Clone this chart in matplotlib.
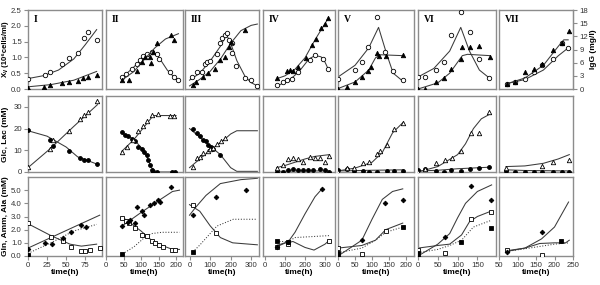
import numpy as np
import matplotlib
matplotlib.use('Agg')
import matplotlib.pyplot as plt

plt.rcParams['font.family'] = ['Liberation Sans', 'DejaVu Sans']

# panel labels and time ticks, one entry per culture (column)
panel_names = ['I', 'II', 'III', 'IV', 'V', 'VI', 'VII']
time_ticks = [[0, 25, 50, 75], [0, 50, 100, 150, 200], [0, 100, 200, 300],
              [0, 100, 200, 300], [0, 50, 100, 150, 200], [0, 50, 100, 150],
              [50, 100, 150, 200, 250]]
time_lims = [(0, 97), (0, 220), (-22, 338), (-10, 350), (0, 223), (0, 197), (50, 250)]

# ---- row 1: viable cells (open circles) and IgG (filled triangles)
xv_t = [[0, 22, 29, 45, 54, 66, 73, 78, 90],
        [45, 57, 73, 88, 97, 107, 116, 130, 145, 152, 183, 194, 207],
        [11, 35, 59, 76, 87, 100, 133, 149, 157, 173, 181, 194, 206, 206, 227, 271, 299, 328],
        [62, 88, 112, 137, 167, 225, 250, 292, 317],
        [1, 50, 70, 89, 114, 138, 161, 191],
        [0, 18, 45, 65, 84, 109, 131, 154, 180],
        [71, 93, 120, 145, 165, 197, 219, 237]]
xv = [[0.32, 0.43, 0.53, 0.78, 0.99, 1.15, 1.62, 1.79, 1.56],
      [0.37, 0.46, 0.64, 0.80, 0.93, 1.06, 1.12, 1.17, 1.10, 0.96, 0.53, 0.39, 0.27],
      [0.37, 0.53, 0.53, 0.80, 0.85, 0.90, 1.12, 1.44, 1.60, 1.70, 1.78, 1.56, 1.44, 1.15, 0.74, 0.35, 0.29, 0.11],
      [0.13, 0.21, 0.27, 0.32, 0.55, 0.93, 1.09, 0.96, 0.62],
      [0.32, 0.59, 0.85, 1.33, 2.27, 1.17, 0.56, 0.27],
      [0.39, 0.39, 0.59, 0.87, 1.72, 2.45, 1.79, 0.96, 0.35],
      [0.16, 0.23, 0.32, 0.55, 0.77, 0.96, 1.44, 1.30]]
xv_fit_t = [[0, 20, 40, 60, 75, 90],
            [45, 80, 110, 135, 150, 175, 207],
            [0, 50, 100, 150, 180, 200, 230, 270, 300, 330],
            [62, 120, 170, 220, 250, 280, 300, 317],
            [0, 50, 90, 119, 143, 162, 190],
            [0, 40, 80, 108, 130, 155, 180],
            [71, 120, 170, 210, 237]]
xv_fit = [[0.33, 0.42, 0.60, 0.95, 1.40, 1.88],
          [0.35, 0.70, 1.05, 1.15, 1.02, 0.60, 0.23],
          [0.28, 0.50, 0.88, 1.35, 1.72, 1.45, 0.90, 0.40, 0.20, 0.10],
          [0.10, 0.27, 0.55, 0.95, 1.06, 1.02, 0.85, 0.62],
          [0.38, 0.75, 1.30, 1.95, 1.10, 0.50, 0.25],
          [0.38, 0.65, 1.20, 1.95, 1.20, 0.60, 0.35],
          [0.17, 0.30, 0.60, 1.05, 1.30]]
igg_t = [[0, 21, 29, 45, 54, 66, 72, 78, 90],
         [45, 66, 88, 102, 112, 127, 129, 133, 145, 185, 194],
         [16, 32, 67, 92, 124, 149, 173, 194, 202, 271],
         [62, 112, 125, 138, 167, 205, 233, 255, 278, 300, 317],
         [1, 26, 50, 70, 89, 96, 114, 119, 141, 190],
         [0, 18, 45, 65, 84, 109, 112, 131, 154, 182],
         [71, 93, 120, 145, 165, 197, 219, 240]]
igg = [[0.2, 0.5, 0.9, 1.3, 1.7, 1.9, 2.4, 2.8, 3.3],
       [2.1, 2.1, 4.0, 6.1, 7.3, 7.4, 6.0, 8.4, 10.5, 12.4, 11.2],
       [0.9, 1.5, 2.8, 3.6, 4.6, 6.7, 7.4, 9.6, 10.7, 13.5],
       [2.5, 4.2, 4.4, 4.2, 5.0, 7.1, 10.1, 11.5, 13.8, 14.9, 16.1],
       [0.0, 0.5, 1.7, 2.8, 4.2, 5.0, 8.1, 7.6, 7.6, 7.8],
       [0.0, 0.1, 1.5, 2.5, 4.6, 6.9, 9.6, 9.6, 9.8, 7.4],
       [1.2, 1.7, 3.8, 4.6, 5.8, 8.9, 10.5, 13.2]]
igg_fit_t = [[0, 30, 60, 90],
             [45, 80, 110, 140, 170, 207],
             [0, 50, 100, 150, 200, 250, 300, 330],
             [62, 100, 150, 200, 250, 317],
             [0, 50, 90, 110, 125, 190],
             [0, 50, 80, 100, 112, 125, 182],
             [71, 120, 170, 210, 225, 237]]
igg_fit = [[0.5, 1.0, 2.0, 4.0],
           [2.0, 4.0, 6.8, 9.4, 11.4, 12.6],
           [0.7, 2.2, 4.0, 6.8, 10.4, 13.3, 14.5, 14.8],
           [2.4, 3.0, 4.5, 7.1, 11.2, 16.2],
           [0.1, 1.6, 4.3, 7.1, 7.8, 7.6],
           [0.0, 1.4, 3.6, 6.1, 7.6, 7.9, 7.6],
           [1.2, 2.5, 5.4, 9.7, 11.2, 11.2]]

# ---- row 2: glucose (filled circles) and lactate (open triangles)
glc_t = [[0, 29, 33, 54, 68, 74, 79, 91],
         [45, 54, 64, 73, 83, 92, 102, 109, 116, 121, 126, 130, 135, 145, 188, 197],
         [16, 35, 51, 67, 80, 92, 105, 116, 149],
         [58, 92, 117, 138, 163, 192, 217, 242, 275, 300, 322],
         [1, 25, 47, 73, 92, 114, 143, 165, 190],
         [0, 18, 45, 65, 84, 109, 131, 154, 180],
         [69, 93, 120, 145, 165, 197, 219, 239]]
glc = [[19.2, 14.8, 12.2, 9.7, 6.3, 5.6, 5.3, 3.7],
       [18.2, 17.2, 16.4, 15.2, 14.1, 11.7, 10.5, 9.4, 7.9, 5.6, 3.2, 0.9, 0.1, 0.0, 0.0, 0.0],
       [19.8, 17.9, 16.4, 14.8, 14.1, 12.5, 11.4, 10.5, 7.9],
       [0.2, 0.0, 0.9, 1.2, 0.9, 0.9, 0.9, 0.9, 1.2, 0.8, 0.2],
       [0.8, 1.2, 0.6, 0.6, 0.1, 0.0, 0.6, 0.6, 0.6],
       [0.9, 1.2, 0.6, 0.1, 0.9, 0.6, 1.2, 1.8, 2.3],
       [0.6, 0.0, 0.0, 0.0, 0.0, 0.0, 0.0, 0.0]]
glc_fit_t = [[0, 25, 50, 65, 90],
             [45, 80, 110, 130, 145, 200],
             [0, 100, 150, 200, 230, 330],
             [58, 150, 322],
             [0, 100, 192],
             [0, 50, 100, 180],
             [69, 120, 240]]
glc_fit = [[19.0, 16.5, 11.5, 7.0, 3.7],
           [18.0, 15.0, 9.5, 2.0, 0.0, 0.0],
           [20.0, 12.0, 8.0, 2.0, 0.3, 0.3],
           [0.3, 0.5, 0.5],
           [0.5, 0.8, 1.0],
           [0.5, 0.8, 1.5, 2.2],
           [1.0, 0.7, 0.5]]
lac_t = [[0, 29, 33, 54, 68, 74, 79, 91],
         [45, 59, 78, 92, 107, 116, 130, 149, 183, 194],
         [16, 35, 51, 67, 88, 100, 116, 133, 152, 173],
         [58, 92, 117, 138, 163, 192, 225, 250, 275, 300, 322],
         [1, 26, 47, 73, 92, 114, 124, 143, 165, 192],
         [0, 18, 45, 67, 85, 109, 133, 154, 180],
         [69, 165, 197, 239]]
lac = [[2.2, 10.5, 14.8, 18.7, 24.4, 26.4, 27.5, 32.6],
       [9.4, 11.7, 14.8, 18.7, 21.0, 23.3, 26.4, 26.9, 26.0, 26.0],
       [2.5, 6.3, 7.1, 8.7, 9.7, 10.5, 11.0, 13.0, 14.1, 15.6],
       [1.7, 3.2, 5.9, 6.6, 6.0, 4.5, 7.1, 6.6, 6.6, 4.5, 7.4],
       [0.0, 1.7, 1.7, 4.3, 4.8, 8.2, 9.7, 12.5, 19.8, 22.6],
       [0.0, 1.2, 4.0, 5.3, 6.3, 9.7, 17.9, 17.9, 27.5],
       [1.7, 2.8, 4.8, 5.6]]
lac_fit_t = [[0, 30, 60, 91],
             [45, 80, 110, 135, 200],
             [0, 100, 170, 200, 230, 330],
             [58, 100, 150, 200, 250, 322],
             [0, 50, 100, 130, 160, 192],
             [0, 50, 100, 120, 140, 160, 180],
             [69, 120, 170, 210, 240]]
lac_fit = [[2.0, 11.0, 21.0, 31.0],
           [9.5, 15.0, 21.0, 26.0, 26.0],
           [2.0, 10.0, 15.0, 17.5, 19.0, 19.0],
           [2.0, 3.0, 4.5, 6.0, 7.2, 8.0],
           [0.5, 1.8, 4.5, 9.0, 18.0, 23.0],
           [0.0, 2.5, 8.0, 13.0, 20.0, 24.5, 26.5],
           [2.5, 2.8, 4.0, 6.0, 8.0]]

# ---- row 3: glutamine (open squares), ammonia (filled diamonds), alanine (filled squares)
gln_t = [[0, 30, 46, 56, 69, 75, 81, 94],
         [47, 57, 67, 83, 102, 116, 130, 140, 152, 164, 188, 197],
         [16, 129],
         [58, 117, 322],
         [1, 70, 140],
         [0, 67, 133, 184],
         [71, 165]]
gln = [[2.48, 1.45, 1.11, 0.72, 0.41, 0.41, 0.46, 0.60],
       [2.92, 2.66, 2.48, 2.09, 1.63, 1.50, 1.16, 0.98, 0.80, 0.72, 0.46, 0.46],
       [3.88, 1.76],
       [0.65, 0.93, 1.16],
       [0.60, 0.16, 1.88],
       [0.47, 0.26, 2.79, 3.36],
       [0.47, 0.08]]
gln_fit_t = [[0, 30, 55, 70, 90],
             [47, 100, 130, 160, 190, 210],
             [0, 50, 100, 150, 210, 330],
             [58, 100, 140, 200, 245, 300, 322],
             [0, 70, 110, 140, 190],
             [0, 50, 80, 110, 130, 150, 184],
             [71, 120, 160, 200, 230, 240]]
gln_fit = [[2.45, 1.55, 0.90, 0.75, 0.90],
           [2.95, 1.90, 1.20, 0.80, 0.50, 0.50],
           [3.90, 3.40, 2.30, 1.40, 1.00, 0.85],
           [0.80, 1.00, 1.10, 0.65, 0.45, 0.90, 1.20],
           [0.60, 0.80, 1.20, 2.00, 2.50],
           [0.60, 0.80, 0.90, 1.60, 2.60, 3.00, 3.40],
           [0.40, 0.60, 0.95, 1.00, 1.00, 1.20]]
amm_t = [[0, 22, 31, 46, 56, 70, 76],
         [47, 62, 69, 83, 89, 102, 109, 126, 138, 149, 154, 185],
         [16, 129, 276],
         [58, 117, 283],
         [1, 71, 138, 190],
         [0, 68, 133, 184],
         [71, 165]]
amm = [[0.52, 0.98, 0.93, 1.37, 1.84, 2.35, 2.19],
       [2.27, 2.61, 2.74, 2.53, 3.70, 3.43, 3.12, 3.90, 4.03, 4.29, 4.13, 5.25],
       [3.10, 4.47, 5.04],
       [0.65, 1.10, 5.10],
       [0.00, 1.24, 4.03, 4.29],
       [0.00, 1.42, 5.33, 4.29],
       [0.33, 1.81]]
amm_fit_t = [[0, 30, 60, 94],
             [47, 100, 150, 190, 210],
             [0, 30, 80, 150, 250, 330],
             [58, 117, 150, 200, 250, 285],
             [0, 70, 100, 130, 160, 190],
             [0, 50, 80, 100, 120, 150, 186],
             [71, 120, 165, 200, 238]]
amm_fit = [[0.60, 1.40, 2.20, 3.10],
           [2.30, 3.30, 4.20, 4.90, 5.00],
           [3.10, 3.70, 4.60, 5.50, 5.80, 5.90],
           [0.70, 1.10, 1.80, 3.20, 4.50, 5.10],
           [0.00, 1.20, 2.80, 4.30, 4.90, 5.10],
           [0.00, 0.90, 1.70, 2.90, 4.00, 4.90, 5.40],
           [0.35, 0.60, 1.30, 2.20, 4.10]]
ala_t = [[0], [47], [16], [58, 117], [1, 190], [0, 109, 184], [218]]
ala = [[0.08], [0.16], [0.33], [1.11, 1.06], [0.26, 2.19], [0.21, 1.06, 2.14], [1.16]]
ala_fit_t = [[0, 30, 60, 90],
             [47, 80, 110, 130, 160, 210],
             [16, 51, 133, 213, 328],
             [58, 117, 150, 322],
             [0, 70, 110, 140, 190],
             [0, 50, 80, 110, 140, 184],
             [71, 120, 200, 240]]
ala_fit = [[0.20, 1.00, 1.90, 2.40],
           [0.15, 0.70, 1.40, 1.70, 1.80, 1.80],
           [0.30, 0.85, 2.27, 2.79, 2.79],
           [1.10, 1.10, 1.40, 1.55],
           [0.25, 0.60, 1.20, 1.80, 2.20],
           [0.25, 0.50, 0.80, 1.20, 2.20, 2.70],
           [0.35, 0.55, 0.90, 1.00]]

# ---- layout in pixels (left, right) and (top, bottom)
W, H = 600, 285
col_px = [(28, 102), (106, 183), (185, 259), (263, 335), (338, 414), (418, 496), (499, 573)]
row_px = [(10, 89), (96, 172), (177, 256)]

fig = plt.figure(figsize=(W / 100, H / 100), dpi=100)
frame_col = '#8c8c8c'
line_col = '#3a3a3a'
tick_col = '#333333'
fs = 6
ylab_x = (9 - 28) / 74.0      # left label centre, axes fraction of panel I
ylab_xr = (590 - 499) / 74.0  # right label centre for IgG


def make_ax(c, r):
    l, rr = col_px[c]
    t, b = row_px[r]
    ax = fig.add_axes([l / W, 1 - b / H, (rr - l) / W, (b - t) / H])
    for s in ax.spines.values():
        s.set_color(frame_col)
        s.set_linewidth(1.0)
    ax.set_xlim(*time_lims[c])
    ax.tick_params(axis='both', which='both', length=0, labelbottom=False, labelleft=False,
                   colors=tick_col, labelsize=fs)
    return ax


def curve(ax, t, y, ls='-'):
    ax.plot(t, y, ls=ls, color=line_col, lw=0.75)


def pts(ax, t, y, marker, filled, ms=3.2):
    ax.plot(t, y, ls='none', marker=marker, ms=ms, mew=0.6, mec='black',
            mfc='black' if filled else 'white', zorder=5)


def left_axis(ax, ticks, labels, title, size=fs):
    ax.set_yticks(ticks)
    ax.set_yticklabels(labels)
    ax.tick_params(axis='y', length=3, direction='out', labelleft=True, color=frame_col,
                   pad=1.5, labelsize=5.6)
    ax.set_ylabel(title, fontsize=size, fontweight='bold',
                  family=['Liberation Sans', 'DejaVu Sans'])
    ax.yaxis.set_label_coords(ylab_x, 0.5)


for c in range(7):
    # row 1
    ax = make_ax(c, 0)
    ax.set_ylim(0, 2.5)
    ax2 = ax.twinx()
    ax2.set_ylim(0, 18)
    for s in ax2.spines.values():
        s.set_visible(False)
    ax2.tick_params(axis='y', length=0, labelright=False)
    curve(ax, xv_fit_t[c], xv_fit[c])
    pts(ax, xv_t[c], xv[c], 'o', False)
    curve(ax2, igg_fit_t[c], igg_fit[c])
    pts(ax2, igg_t[c], igg[c], '^', True)
    ax.text(0.08, 0.94, panel_names[c], transform=ax.transAxes, va='top', ha='left',
            fontsize=7, fontweight='bold', family='Liberation Serif')
    if c == 0:
        yt = [0, 0.5, 1.0, 1.5, 2.0, 2.5]
        left_axis(ax, yt, ['%.1f' % v for v in yt], 'X\u1d65 (10\u2076cells/ml)', size=5.6)
    if c == 6:
        ax2.spines['right'].set_visible(True)
        ax2.spines['right'].set_color(frame_col)
        ax2.set_yticks([0, 3, 6, 9, 12, 15, 18])
        ax2.tick_params(axis='y', length=3, direction='out', labelright=True,
                        colors=tick_col, labelsize=5.6, color=frame_col, pad=1.5)
        ax2.set_ylabel('IgG (mg/l)', fontsize=fs, fontweight='bold')
        ax2.yaxis.set_label_coords(ylab_xr, 0.5)

    # row 2
    ax = make_ax(c, 1)
    ax.set_ylim(0, 35)
    curve(ax, glc_fit_t[c], glc_fit[c])
    curve(ax, lac_fit_t[c], lac_fit[c])
    pts(ax, glc_t[c], glc[c], 'o', True, ms=2.8)
    pts(ax, lac_t[c], lac[c], '^', False)
    if c == 0:
        left_axis(ax, [0, 10, 20, 30], ['0', '10', '20', '30'], 'Glc, Lac (mM)')

    # row 3
    ax = make_ax(c, 2)
    ax.set_ylim(0, 6)
    curve(ax, gln_fit_t[c], gln_fit[c])
    curve(ax, amm_fit_t[c], amm_fit[c])
    curve(ax, ala_fit_t[c], ala_fit[c], ls=':')
    pts(ax, gln_t[c], gln[c], 's', False, ms=2.8)
    pts(ax, amm_t[c], amm[c], 'D', True, ms=2.4)
    pts(ax, ala_t[c], ala[c], 's', True, ms=2.8)
    ax.set_xticks(time_ticks[c])
    ax.tick_params(axis='x', length=3, direction='out', labelbottom=True, color=frame_col,
                   pad=1.5, labelsize=5.6)
    ax.set_xlabel('time(h)', fontsize=fs, fontweight='bold', labelpad=0)
    if c == 0:
        yt = [0, 1, 2, 3, 4, 5]
        left_axis(ax, yt, ['%.1f' % v for v in yt], 'Gln, Amm, Ala (mM)')

fig.savefig('out.png', dpi=100)
